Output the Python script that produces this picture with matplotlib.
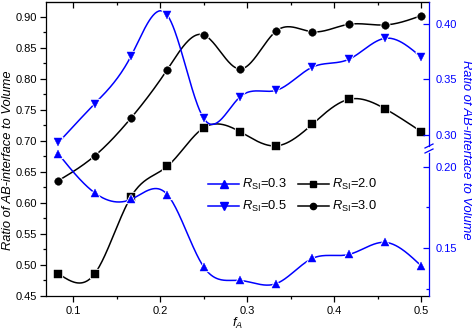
import numpy as np
import matplotlib.pyplot as plt
from matplotlib.lines import Line2D

plt.rcParams['font.family'] = ['Liberation Sans', 'DejaVu Sans']
plt.rcParams['mathtext.fontset'] = 'custom'
plt.rcParams['mathtext.rm'] = 'Liberation Sans'
plt.rcParams['mathtext.it'] = 'Liberation Sans:italic'

# volume fraction of A
f_A = [0.0833, 0.125, 0.1667, 0.2083, 0.25, 0.2917, 0.3333, 0.375, 0.4167, 0.4583, 0.5]

# left axis (black)
r_si_20 = [0.486, 0.486, 0.610, 0.659, 0.721, 0.715, 0.692, 0.727, 0.767, 0.752, 0.715]
r_si_30 = [0.636, 0.676, 0.737, 0.815, 0.871, 0.816, 0.877, 0.876, 0.888, 0.887, 0.902]

# right axis (blue), upper and lower part of the broken axis
r_si_05 = [0.293, 0.328, 0.371, 0.408, 0.315, 0.334, 0.340, 0.361, 0.368, 0.387, 0.370]
r_si_03 = [0.208, 0.184, 0.180, 0.183, 0.1385, 0.130, 0.128, 0.1436, 0.146, 0.1535, 0.139]

BLUE = '#0000ff'


def spline(x, y, n=400):
    """Natural cubic spline, only used to draw the smooth connecting line."""
    x = np.asarray(x, float)
    y = np.asarray(y, float)
    h = np.diff(x)
    m = len(x)
    A = np.zeros((m, m))
    b = np.zeros(m)
    A[0, 0] = A[-1, -1] = 1
    for i in range(1, m - 1):
        A[i, i - 1] = h[i - 1]
        A[i, i] = 2 * (h[i - 1] + h[i])
        A[i, i + 1] = h[i]
        b[i] = 3 * ((y[i + 1] - y[i]) / h[i] - (y[i] - y[i - 1]) / h[i - 1])
    c = np.linalg.solve(A, b)
    xs = np.linspace(x[0], x[-1], n)
    idx = np.clip(np.searchsorted(x, xs) - 1, 0, m - 2)
    dx = xs - x[idx]
    bc = (y[idx + 1] - y[idx]) / h[idx] - h[idx] * (2 * c[idx] + c[idx + 1]) / 3
    d = (c[idx + 1] - c[idx]) / (3 * h[idx])
    return xs, y[idx] + bc * dx + c[idx] * dx ** 2 + d * dx ** 3


def draw(ax, y, color, marker):
    xs, ys = spline(f_A, y)
    ax.plot(xs, ys, color=color, lw=1.1, clip_on=False, zorder=2)
    ax.plot(f_A, y, ls='none', marker=marker, ms=5.5, color=color,
            mec='white', mew=1.6, clip_on=False, zorder=3)
    ax.plot(f_A, y, ls='none', marker=marker, ms=5.5, color=color,
            mec=color, mew=0.3, clip_on=False, zorder=4)


fig = plt.figure(figsize=(4.72, 3.33), dpi=100)
L, R, B, T = 46 / 472, 429 / 472, 1 - 296 / 333, 1 - 2 / 333
TS = 8  # tick label size
LS = 9.3  # axis label size

ax = fig.add_axes([L, B, R - L, T - B])
ax.set_xlim(0.069, 0.509)
ax.set_ylim(0.45, 0.924)
ax.set_yticks(np.arange(0.45, 0.91, 0.05))
ax.set_yticks(np.arange(0.475, 0.92, 0.05), minor=True)
ax.set_xticks([0.1, 0.2, 0.3, 0.4, 0.5])
ax.set_xticks([0.15, 0.25, 0.35, 0.45], minor=True)
ax.set_xticklabels(['0.1', '0.2', '0.3', '0.4', '0.5'])
ax.yaxis.set_major_formatter(plt.FormatStrFormatter('%.2f'))
ax.tick_params(axis='both', which='both', labelsize=TS, width=0.9)
ax.tick_params(axis='y', which='major', length=4, direction='out', right=False, pad=2.5)
ax.tick_params(axis='y', which='minor', length=2.5, direction='out', right=False)
ax.tick_params(axis='x', which='major', length=4, direction='out', pad=3)
ax.tick_params(axis='x', which='minor', length=2.5, direction='out')
ax.spines['right'].set_visible(False)
for s in ax.spines.values():
    s.set_linewidth(0.9)
ax.set_xlabel('$f_A$', fontsize=LS, labelpad=0)
fig.text(8 / 472, 1 - 160 / 333, 'Ratio of AB-interface to Volume', color='black',
         style='italic', fontsize=LS, rotation=90, ha='center', va='center')

# top ticks pointing inward
top = ax.secondary_xaxis('top')
top.set_xticks([0.1, 0.2, 0.3, 0.4, 0.5])
top.set_xticks([0.15, 0.25, 0.35, 0.45], minor=True)
top.tick_params(which='both', direction='in', labeltop=False, width=0.9)
top.tick_params(which='major', length=4)
top.tick_params(which='minor', length=2.5)

# broken right axis: two stacked axes
up_b = 1 - 146 / 333
lo_t = 1 - 153 / 333
ax_up = fig.add_axes([L, up_b, R - L, T - up_b], sharex=ax)
ax_lo = fig.add_axes([L, B, R - L, lo_t - B], sharex=ax)
ax_up.set_ylim(0.2898, 0.4198)
ax_lo.set_ylim(0.1204, 0.2086)
ax_up.set_yticks([0.30, 0.35, 0.40])
ax_lo.set_yticks([0.15, 0.20])
ax_lo.set_yticks([0.125, 0.175], minor=True)
for a in (ax_up, ax_lo):
    a.patch.set_visible(False)
    for side in ('left', 'top', 'bottom'):
        a.spines[side].set_visible(False)
    a.spines['right'].set_color(BLUE)
    a.spines['right'].set_linewidth(0.9)
    a.xaxis.set_visible(False)
    a.yaxis.tick_right()
    a.yaxis.set_major_formatter(plt.FormatStrFormatter('%.2f'))
    a.tick_params(axis='y', which='both', direction='in', colors=BLUE,
                  labelsize=TS, width=0.9, pad=5)
    a.tick_params(axis='y', which='major', length=4)
    a.tick_params(axis='y', which='minor', length=2.5)

# break marks
for yy in (146, 151):
    fig.add_artist(Line2D([(429 - 4) / 472, (429 + 4) / 472],
                          [1 - (yy + 2) / 333, 1 - (yy - 2) / 333],
                          color=BLUE, lw=0.9))

fig.text(466 / 472, 1 - 150 / 333, 'Ratio of AB-interface to Volume', color=BLUE,
         style='italic', fontsize=LS, rotation=-90, ha='center', va='center')

draw(ax, r_si_20, 'black', 's')
draw(ax, r_si_30, 'black', 'o')
draw(ax_up, r_si_05, BLUE, 'v')
draw(ax_lo, r_si_03, BLUE, '^')

handles = [
    Line2D([], [], color=BLUE, lw=1.1, marker='^', ms=5.5),
    Line2D([], [], color=BLUE, lw=1.1, marker='v', ms=5.5),
    Line2D([], [], color='black', lw=1.1, marker='s', ms=4.5),
    Line2D([], [], color='black', lw=1.1, marker='o', ms=4.5),
]
labels = [r'$R_{\rm SI}$=0.3', r'$R_{\rm SI}$=0.5', r'$R_{\rm SI}$=2.0', r'$R_{\rm SI}$=3.0']
ax.legend(handles, labels, ncol=2, loc='upper left', bbox_to_anchor=(0.41, 0.422),
          frameon=False, fontsize=9.3, handlelength=2.4, handletextpad=0.25,
          columnspacing=0.8, labelspacing=0.55, borderaxespad=0)

fig.savefig('out.png', dpi=100)
